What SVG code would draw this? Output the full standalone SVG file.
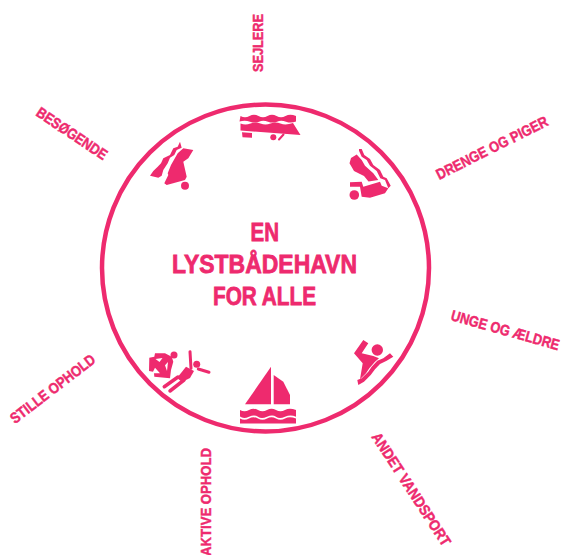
<svg xmlns="http://www.w3.org/2000/svg" width="565" height="555" viewBox="0 0 565 555">
<style>
.l{font-family:"Liberation Sans",Arial,sans-serif;font-weight:700;font-size:15px;fill:#ee2a6e;stroke:#ee2a6e;stroke-width:.45}
.t{font-family:"Liberation Sans",Arial,sans-serif;font-weight:700;font-size:26.500px;fill:#ee2a6e;stroke:#ee2a6e;stroke-width:.8}
.i{fill:#ee2a6e}
.h{fill:#fff}
.s{fill:none;stroke:#ee2a6e;stroke-linecap:round}
</style>
<g id="ring"><circle cx="265.500" cy="268" r="163.500" fill="none" stroke="#ee2a6e" stroke-width="4.500"/></g>
<g id="title">
<text class="t" x="250.500" y="240.500" textLength="28.500" lengthAdjust="spacingAndGlyphs">EN</text>
<text class="t" x="172" y="272.700" textLength="185" lengthAdjust="spacingAndGlyphs">LYSTBÅDEHAVN</text>
<text class="t" x="213" y="305" textLength="103" lengthAdjust="spacingAndGlyphs">FOR ALLE</text>
</g>
<g id="sejlere">
<text class="l" transform="translate(263,72) rotate(-90)" textLength="58" lengthAdjust="spacingAndGlyphs">SEJLERE</text>
<path class="i" d="M240.500 116q4.500 2.500 9 0t9 0 9 0 9 0 9 0 10.500 0v5.500q-5 2-10 .2t-9 0-9 0-9 0-9 0-10.500-.2z"/>
<path class="i" d="M240.500 123.500q5 2 10 0t10 0 10 0 10 0 12.500-.5l7.500 12-20-1.500-40-3z"/>
<path class="i" d="M242 132.300l10 .7v4.700l-9.500-.4z"/>
<circle class="i" cx="273.300" cy="137.300" r="3"/>
<path class="s" d="M279 139.500l4.500-5" stroke-width="2"/>
</g>
<g id="drenge">
<text class="l" transform="translate(439.300,180) rotate(-26.600)" textLength="123" lengthAdjust="spacingAndGlyphs">DRENGE OG PIGER</text>
<path class="i" d="M359 149 361.700 149 364.300 155 370 159 373.300 165 380 170 383.300 176.700 386.700 178.300 390.700 185.700 388.300 188.300 385 180 380.300 178.300 376.700 171 370 165.700 366.700 160 361.700 156.700 359 150.700z"/>
<path class="i" d="M351 158 356.700 154.500 361.700 160 365 165.700 373.300 173.300 378.300 180 368.500 181.500 364 176 354 171 349.500 163.300z"/>
<path class="i" d="M350 182.300 361.700 181.700 363.300 186.700 380 181.700 381.700 185.700 388.300 188.300 385 193.300 370 197.700 361.700 196.700 360 186.700 350 186.700z"/>
<circle class="i" cx="354.300" cy="195" r="4.800"/>
</g>
<g id="unge">
<text class="l" transform="translate(450,320) rotate(15.700)" textLength="112" lengthAdjust="spacingAndGlyphs">UNGE OG ÆLDRE</text>
<path class="i" d="M354 353.300 363.300 340 368.300 343.300 361.700 353.300 373.300 356 379 358.300 375 361.700 369.300 368.300 366 373.300 360 379.300 362.700 363.300z"/>
<circle class="i" cx="377.300" cy="350" r="5.700"/>
<path class="i" d="M390 353.300 383.300 358.300 377.300 360.700 371.700 366.700 368.300 371.700 361.700 378.300 357.300 380 358.300 385 364 381.700 370.700 375 375 369.300 380 364 386.700 360.700 393.300 356.700z"/>
</g>
<g id="andet">
<text class="l" transform="translate(371,436.700) rotate(57)" textLength="132" lengthAdjust="spacingAndGlyphs">ANDET VANDSPORT</text>
<path class="i" d="M271 366.700V404.300H245z"/>
<path class="i" d="M273.700 375 283.300 381.700 290 395V404.300H273.700z"/>
<path class="i" d="M240 410q4.500 2.500 9 0t9 0 9 0 9 0 9 0 11 0v6.700q-5.500-2.500-11 0t-9 0-9 0-9 0-9 0-9-.2z"/>
<path class="i" d="M240 418.500q4.500 2.500 9 0t9 0 9 0 9 0 9 0 11 0v5h-56z"/>
</g>
<g id="aktive">
<text class="l" transform="translate(211,556) rotate(-90)" textLength="108" lengthAdjust="spacingAndGlyphs">AKTIVE OPHOLD</text>
</g>
<g id="stille">
<text class="l" transform="translate(15,424.300) rotate(-37.500)" textLength="103" lengthAdjust="spacingAndGlyphs">STILLE OPHOLD</text>
<circle class="i" cx="174" cy="355" r="3.500"/>
<circle class="i" cx="196.700" cy="364.300" r="3.500"/>
<path class="i" d="M149.300 357.700 154.300 356.700 155 353.300 165 353.300 171.700 356.700 173.300 361.700 171 370 170 378.300 154.300 376.700 154 373.300 160 373.300 155 367.700 153 371.700 149 371z"/>
<path class="h" d="M155.500 359 162.500 358 159.500 362zM165 365.300 168 362 167 371z"/>
<path class="s" d="M190 351.700 191 368.300M198.300 369 209 372.300" stroke-width="3"/>
<path class="s" d="M164.300 386.700 178 377M170 391 184 380" stroke-width="3.500"/>
<path class="i" d="M186 366.700 194 371 190 378 182 382 177 378z"/>
</g>
<g id="besogende">
<text class="l" transform="translate(35,115) rotate(33.800)" textLength="82" lengthAdjust="spacingAndGlyphs">BESØGENDE</text>
<path class="i" d="M180 141.700 181.700 147.700 176.700 150 174.300 155 170 157.700 167.700 163.300 163.300 170 161.700 175.700 158.300 177.700 150 175.700 153.300 171 157.700 166.700 161 163.300 163.300 158.300 170 155 173.300 148.300 177.700 146.700z"/>
<path class="i" d="M183.300 148.300 193.300 150 188.300 158.300 183.300 161.700 186.700 176.700 185 180 166.700 185 164.300 183.300 168.300 175 167.700 173.300 171 165 177.700 153.300z"/>
<circle class="i" cx="185" cy="185.700" r="4"/>
</g>
</svg>
